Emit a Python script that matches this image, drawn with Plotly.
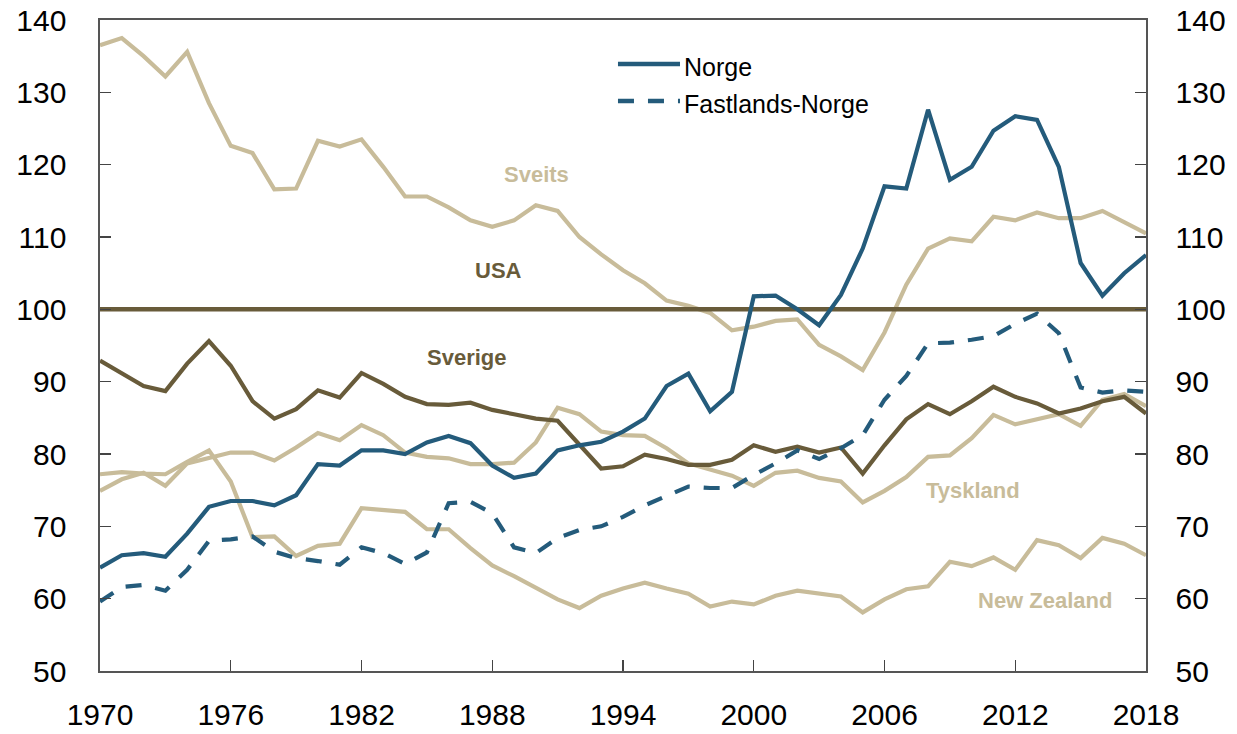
import plotly.graph_objects as go

years = list(range(1970, 2019))

norge = [64.3, 66.0, 66.3, 65.8, 69.0, 72.7, 73.5, 73.5, 72.9, 74.3,
         78.6, 78.4, 80.5, 80.5, 80.0, 81.6, 82.5, 81.5, 78.4, 76.7,
         77.3, 80.5, 81.2, 81.7, 83.1, 84.9, 89.4, 91.1, 85.9, 88.6,
         101.8, 101.9, 100.0, 97.8, 102.0, 108.4, 117.0, 116.7, 127.6, 117.9,
         119.7, 124.7, 126.7, 126.2, 119.7, 106.4, 101.9, 105.0, 107.5]

fastlands = [59.6, 61.6, 61.9, 61.1, 64.0, 68.0, 68.2, 68.6, 66.5, 65.6,
             65.2, 64.7, 67.1, 66.3, 64.8, 66.4, 73.2, 73.4, 71.8, 67.1,
             66.3, 68.4, 69.5, 70.0, 71.3, 72.9, 74.2, 75.5, 75.3, 75.3,
             77.1, 78.7, 80.5, 79.3, 80.8, 82.6, 87.5, 90.8, 95.3, 95.4,
             95.8, 96.3, 98.0, 99.4, 96.7, 89.2, 88.5, 88.8, 88.6]

sveits = [136.5, 137.5, 135.0, 132.2, 135.6, 128.5, 122.6, 121.6, 116.6, 116.7,
          123.3, 122.5, 123.5, 119.7, 115.6, 115.6, 114.1, 112.3, 111.4, 112.3,
          114.4, 113.6, 110.0, 107.6, 105.4, 103.6, 101.2, 100.5, 99.5, 97.1,
          97.6, 98.4, 98.6, 95.1, 93.5, 91.6, 96.8, 103.4, 108.4, 109.8,
          109.4, 112.8, 112.3, 113.4, 112.6, 112.6, 113.6, 112.1, 110.5]

usa = [100.0] * len(years)

sverige = [92.9, 91.2, 89.4, 88.7, 92.5, 95.6, 92.2, 87.3, 84.9, 86.2,
           88.8, 87.8, 91.2, 89.7, 87.9, 86.9, 86.8, 87.1, 86.1, 85.5,
           84.9, 84.6, 81.4, 78.0, 78.3, 79.9, 79.3, 78.5, 78.5, 79.2,
           81.2, 80.3, 81.0, 80.2, 80.9, 77.3, 81.2, 84.8, 86.9, 85.5,
           87.3, 89.3, 87.9, 87.0, 85.6, 86.3, 87.3, 87.9, 85.6]

tyskland = [74.9, 76.5, 77.4, 75.6, 78.7, 79.4, 80.2, 80.2, 79.1, 80.9,
            82.9, 81.9, 84.0, 82.6, 80.2, 79.6, 79.4, 78.6, 78.6, 78.8,
            81.6, 86.4, 85.5, 83.1, 82.6, 82.5, 80.8, 78.7, 77.9, 77.0,
            75.6, 77.4, 77.7, 76.7, 76.2, 73.3, 74.9, 76.8, 79.6, 79.8,
            82.2, 85.4, 84.1, 84.8, 85.5, 83.9, 87.5, 88.3, 86.6]

new_zealand = [77.2, 77.5, 77.3, 77.2, 78.9, 80.5, 76.2, 68.5, 68.6, 65.9,
               67.3, 67.6, 72.5, 72.3, 72.0, 69.6, 69.6, 67.0, 64.6, 63.1,
               61.5, 59.9, 58.7, 60.4, 61.4, 62.2, 61.4, 60.7, 58.9, 59.6,
               59.2, 60.4, 61.1, 60.7, 60.3, 58.1, 59.9, 61.3, 61.7, 65.1,
               64.5, 65.7, 64.0, 68.1, 67.4, 65.6, 68.4, 67.6, 66.0]

x_ticks = list(range(1970, 2019, 6))
y_ticks = list(range(50, 141, 10))

BLUE = "#245b7b"
TAN = "#c8bc9a"
OLIVE = "#685b3a"
FONT = "Liberation Sans, Arial, sans-serif"

fig = go.Figure()

def add(y, color, name, dash="solid", width=4.2):
    fig.add_trace(go.Scatter(x=years, y=y, mode="lines", name=name,
                             line=dict(color=color, width=width, dash=dash),
                             showlegend=False, hoverinfo="skip"))

add(new_zealand, TAN, "New Zealand")
add(tyskland, TAN, "Tyskland")
add(sveits, TAN, "Sveits")
add(usa, OLIVE, "USA", width=4.5)
add(sverige, OLIVE, "Sverige")
add(fastlands, BLUE, "Fastlands-Norge", dash="16px,14px")
add(norge, BLUE, "Norge")

# invisible trace to activate right axis
fig.add_trace(go.Scatter(x=years, y=usa, yaxis="y2", mode="lines",
                         line=dict(color="rgba(0,0,0,0)"), showlegend=False,
                         hoverinfo="skip"))

# manual legend
legend_items = [("Norge", "solid", 0.9324), ("Fastlands-Norge", "16px,14px", 0.8756)]
for name, dash, yp in legend_items:
    fig.add_shape(type="line", xref="paper", yref="paper",
                  x0=0.4952, x1=0.5545, y0=yp, y1=yp,
                  line=dict(color=BLUE, width=4.5, dash=dash))
    fig.add_annotation(xref="paper", yref="paper", x=0.5565, y=yp - 0.004,
                       text=name, showarrow=False, xanchor="left", yanchor="middle",
                       font=dict(family=FONT, size=25, color="#000000"))

labels = [("Sveits", 1990.04, 118.7, TAN),
          ("USA", 1988.3, 105.4, OLIVE),
          ("Sverige", 1986.84, 93.4, OLIVE),
          ("Tyskland", 2010.06, 74.9, TAN),
          ("New Zealand", 2013.37, 59.8, TAN)]
for text, xv, yv, col in labels:
    fig.add_annotation(x=xv, y=yv, text="<b>%s</b>" % text, showarrow=False,
                       xanchor="center", yanchor="middle",
                       font=dict(family=FONT, size=22, color=col))

axis_common = dict(showgrid=False, zeroline=False, ticks="inside", ticklen=11,
                   tickwidth=1.3, tickcolor="#444444", showline=True,
                   linecolor="#555555", linewidth=1.6, automargin=False,
                   ticklabeloverflow="allow",
                   tickfont=dict(family=FONT, size=30, color="#000000"))

fig.update_layout(
    width=1237, height=734,
    margin=dict(l=100, r=91, t=20, b=63, autoexpand=False),
    paper_bgcolor="white", plot_bgcolor="white",
    showlegend=False,
    xaxis=dict(range=[1970, 2018], tickvals=x_ticks, mirror=True,
               ticklabelstandoff=16, **axis_common),
    yaxis=dict(range=[50, 140], tickvals=y_ticks, ticklabelstandoff=26,
               **axis_common),
    yaxis2=dict(range=[50, 140], tickvals=y_ticks, overlaying="y", side="right",
                ticklabelstandoff=22, **axis_common),
)

# remove the default page margin so the figure fills the window exactly
fig.write_html("out.html",
               config={"displayModeBar": False, "staticPlot": True},
               post_script="document.body.style.margin='0';document.body.style.overflow='hidden';")
